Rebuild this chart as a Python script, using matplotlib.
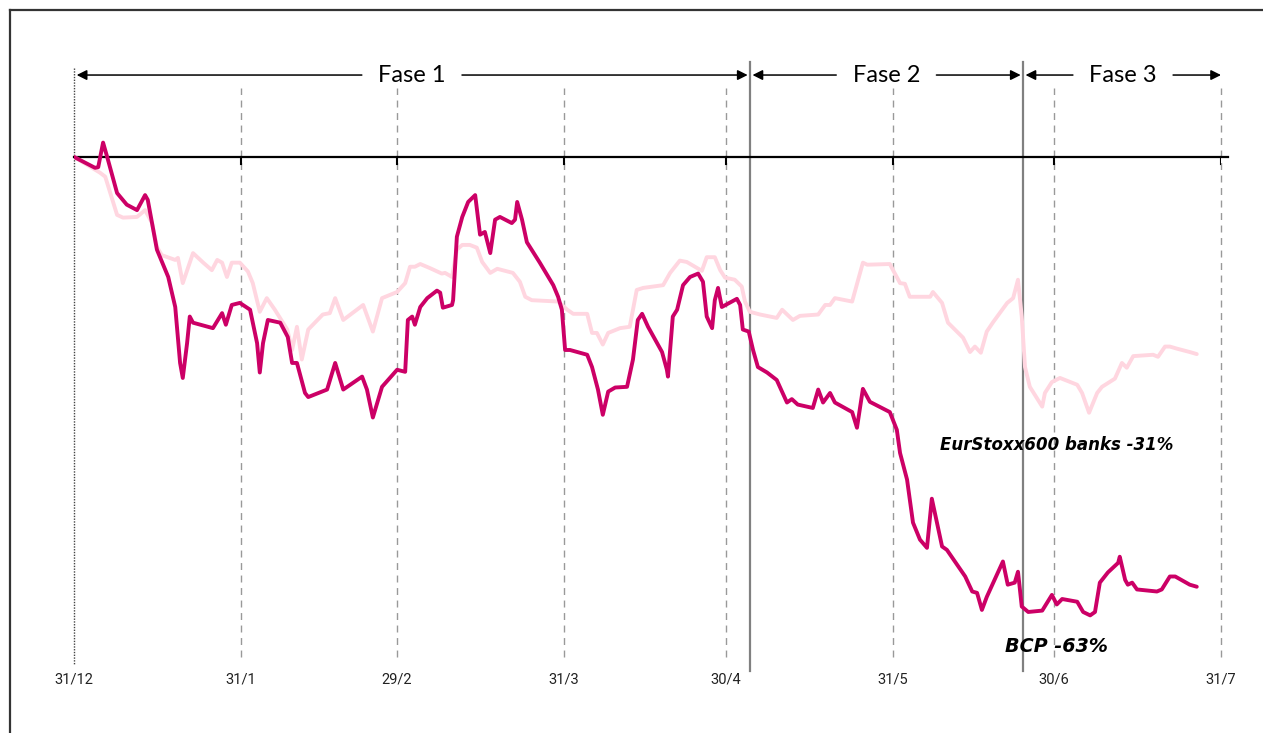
import matplotlib
matplotlib.use('Agg')
import matplotlib.pyplot as plt
from matplotlib.lines import Line2D

# x = days since 31/12/2015, y = change vs. 31/12 in %
bcp_days = [0, 3.9, 4.5, 5.4, 6.3, 8.0, 9.8, 11.7, 13.2, 13.7, 15.4, 17.5, 18.8, 19.7, 20.2,
            21.0, 21.5, 22.1, 25.8, 27.5, 28.2, 29.3, 30.8, 32.7, 34.0, 34.5, 35.1, 36.0, 38.3,
            39.7, 40.5, 41.4, 42.9, 43.5, 47.0, 48.5, 50.0, 53.5, 54.4, 55.5, 57.2, 60.0, 61.5,
            62.0, 62.8, 63.3, 64.3, 65.6, 67.4, 68.0, 68.5, 70.2, 70.4, 71.1, 72.1, 73.2, 74.5,
            75.4, 76.3, 77.3, 78.2, 79.1, 81.3, 81.9, 82.3, 83.2, 84.1, 86.5, 89.0, 89.9, 90.6,
            91.2, 92.1, 95.3, 96.2, 97.3, 98.2, 99.2, 100.5, 102.7, 103.8, 104.7, 105.5, 106.6,
            109.2, 110.1, 110.3, 111.2, 112.0, 113.1, 114.4, 115.9, 116.8, 117.5, 118.5, 119.0,
            119.6, 120.3, 123.1, 123.7, 124.2, 125.3, 126.1, 127.0, 128.7, 130.5, 132.4, 133.3,
            134.4, 137.2, 138.2, 139.1, 140.4, 141.3, 144.5, 145.4, 146.5, 147.8, 151.5, 152.8,
            153.4, 154.7, 155.8, 157.1, 158.4, 159.3, 161.2, 162.1, 165.5, 166.8, 167.7, 168.6,
            169.5, 172.5, 173.4, 174.7, 175.3, 176.0, 177.2, 179.8, 181.6, 182.5, 183.5, 186.3,
            187.4, 188.7, 189.6, 190.5, 192.0, 193.9, 194.2, 195.2, 195.7, 196.5, 197.4, 201.1,
            202.0, 203.5, 204.5, 207.2, 208.5]
bcp_pct = [0, -1.6, -1.5, 2.1, -0.4, -5.3, -7.0, -7.8, -5.6, -6.3, -13.6, -17.6, -22.0, -30.2,
           -32.4, -27.3, -23.4, -24.3, -25.1, -22.9, -24.6, -21.7, -21.4, -22.4, -27.3, -31.6,
           -27.3, -23.9, -24.3, -26.4, -30.2, -30.2, -34.6, -35.2, -34.1, -30.2, -34.1, -32.2,
           -34.1, -38.2, -33.7, -31.2, -31.5, -23.9, -23.4, -24.6, -22.0, -20.7, -19.6, -19.9,
           -22.1, -21.7, -21.0, -11.7, -8.8, -6.6, -5.6, -11.4, -11.0, -14.1, -9.2, -8.8, -9.7,
           -9.2, -6.6, -9.2, -12.5, -15.5, -18.8, -20.5, -22.4, -28.3, -28.3, -29.0, -30.8,
           -34.1, -37.8, -34.4, -33.8, -33.7, -29.7, -23.9, -23.0, -24.9, -28.6, -31.2, -32.2,
           -23.4, -22.4, -18.8, -17.6, -17.1, -18.3, -23.4, -25.1, -21.0, -19.2, -22.0, -20.8,
           -21.7, -25.3, -25.6, -28.3, -30.8, -31.6, -32.7, -36.0, -35.5, -36.3, -36.8, -34.1,
           -36.0, -34.6, -36.0, -37.4, -39.7, -34.0, -35.9, -37.4, -40.0, -43.4, -47.3, -53.6,
           -56.1, -57.3, -50.1, -57.1, -57.6, -61.5, -63.7, -63.9, -66.4, -64.5, -59.3, -62.7,
           -62.4, -60.8, -65.9, -66.7, -66.5, -64.2, -65.6, -64.8, -65.2, -66.7, -67.2, -66.7,
           -62.4, -60.9, -59.5, -58.6, -62.0, -62.7, -62.4, -63.4, -63.7, -63.4, -61.5, -61.5,
           -62.7, -63.0]

banks_days = [0, 4.8, 5.8, 8.0, 9.1, 11.7, 13.2, 14.5, 15.4, 16.3, 18.8, 19.3, 20.2, 22.1, 24.0,
              25.6, 26.6, 27.5, 28.4, 29.3, 30.8, 32.3, 33.2, 34.5, 35.8, 37.3, 39.6, 40.5, 41.4,
              42.3, 43.5, 46.2, 47.5, 48.5, 50.0, 53.7, 55.5, 57.2, 60.0, 61.5, 62.4, 63.3, 64.3,
              66.1, 68.3, 68.9, 70.2, 71.1, 72.1, 73.5, 74.8, 75.8, 77.3, 78.6, 81.5, 82.8, 83.8,
              85.0, 89.9, 91.6, 92.7, 95.3, 96.2, 97.1, 98.2, 99.2, 101.4, 103.2, 104.5, 105.7,
              109.4, 110.7, 112.5, 113.8, 116.6, 117.5, 119.0, 120.0, 120.9, 122.7, 124.0, 124.6,
              125.5, 127.4, 130.5, 131.5, 133.5, 134.8, 138.2, 139.5, 140.4, 141.3, 144.5, 146.5,
              147.3, 151.5, 152.1, 153.4, 154.3, 155.2, 159.0, 159.5, 161.2, 162.3, 165.1, 166.4,
              167.3, 168.4, 169.5, 170.7, 173.3, 174.4, 175.3, 176.0, 176.6, 177.5, 179.8, 180.3,
              181.6, 183.1, 186.3, 187.2, 188.5, 190.0, 190.9, 193.3, 194.6, 195.5, 196.7, 200.4,
              201.3, 202.6, 203.5, 204.8, 207.2, 208.5]
banks_pct = [0, -2.3, -2.9, -8.5, -8.9, -8.8, -7.8, -9.7, -13.2, -14.4, -15.1, -14.8, -18.5,
             -14.1, -15.5, -16.6, -15.1, -15.5, -17.6, -15.5, -15.5, -16.8, -18.5, -22.7, -20.7,
             -22.4, -25.3, -28.3, -24.9, -29.7, -25.3, -23.1, -22.9, -20.7, -23.9, -21.7, -25.6,
             -20.7, -19.8, -18.5, -16.1, -16.1, -15.7, -16.3, -17.1, -17.0, -17.6, -13.6, -12.9,
             -12.9, -13.3, -15.4, -17.0, -16.4, -17.0, -18.3, -20.5, -21.0, -21.2, -22.4, -23.0,
             -23.0, -25.8, -25.8, -27.5, -25.8, -25.1, -24.9, -19.5, -19.2, -18.8, -17.0, -15.2,
             -15.4, -16.7, -14.7, -14.7, -16.6, -17.7, -18.0, -19.0, -21.2, -22.7, -23.1, -23.6,
             -22.4, -23.9, -23.3, -23.1, -21.7, -21.7, -20.7, -21.2, -15.5, -15.8, -15.7, -16.6,
             -18.5, -18.6, -20.5, -20.5, -19.8, -21.4, -24.3, -26.5, -28.6, -27.8, -28.7, -25.6,
             -24.2, -21.4, -20.7, -18.0, -23.4, -30.8, -33.7, -36.6, -34.6, -33.0, -32.4, -33.4,
             -34.6, -37.5, -34.6, -33.7, -32.5, -30.2, -30.9, -29.2, -29.0, -29.3, -27.8, -27.8,
             -28.1, -28.6, -28.9]

month_days = [0, 31, 60, 91, 121, 152, 182, 213]
month_labels = ["31/12", "31/1", "29/2", "31/3", "30/4", "31/5", "30/6", "31/7"]
phase_edges = [0, 125.5, 176.2, 213.4]   # 31/12, 5/5, 24/6, end
phase_names = ["Fase 1", "Fase 2", "Fase 3"]

bcp_color = "#CC0066"
banks_color = "#FFD6E0"

W, H = 1263, 733
fig = plt.figure(figsize=(W / 100, H / 100), dpi=100)
ax = fig.add_axes([74 / W, (H - 657) / H, (1221 - 74) / W, (657 - 88) / H])
ax.set_xlim(0, 213)
ax.set_ylim(-73.3, 10.1)
ax.axis('off')

# frame (only left and top edges visible)
fig.add_artist(Line2D([10 / W, 10 / W], [0, 1 - 10 / H], color="#333333", lw=1.6))
fig.add_artist(Line2D([10 / W, 1], [1 - 10 / H, 1 - 10 / H], color="#333333", lw=1.6))

# month grid
for d in month_days[1:]:
    ax.plot([d, d], [-73.3, 10.1], color="#999999", lw=1, ls=(0, (5, 4)), clip_on=False, zorder=1)
    ax.plot([d, d], [0, -1.0], color="black", lw=1.5, zorder=3)
ax.plot([0, 0], [13.0, -74.4], color="#444444", lw=1, ls=(0, (1, 1)), clip_on=False, zorder=1)

# zero line
ax.plot([0, 214.3], [0, 0], color="black", lw=1.6, clip_on=False, zorder=3)

# phase boundaries
for d in phase_edges[1:3]:
    ax.plot([d, d], [13.9, -75.3], color="#808080", lw=1.6, clip_on=False, zorder=2)

# series
ax.plot(banks_days, banks_pct, color=banks_color, lw=2.8, solid_joinstyle='round',
        solid_capstyle='round', zorder=4)
ax.plot(bcp_days, bcp_pct, color=bcp_color, lw=2.8, solid_joinstyle='round',
        solid_capstyle='round', zorder=5)

# phase arrows
y_arrow = 12.0
gap = 9.3
for i, name in enumerate(phase_names):
    a, b = phase_edges[i], phase_edges[i + 1]
    c = (a + b) / 2
    ax.text(c, y_arrow, name, ha='center', va='center', fontsize=17,
            family='Lato', clip_on=False)
    for start, end in [(c - gap, a + 0.5), (c + gap, b - 0.4)]:
        ax.annotate('', xy=(end, y_arrow), xytext=(start, y_arrow),
                    arrowprops=dict(arrowstyle='-|>', color='black', lw=1.1,
                                    mutation_scale=15, shrinkA=0, shrinkB=0),
                    annotation_clip=False)

# month labels
for d, lab in zip(month_days, month_labels):
    ax.text(d, -76.6, lab, ha='center', va='center', fontsize=10.5, family='Roboto',
            color='#222222', clip_on=False)

ax.text(182.4, -42.2, "EurStoxx600 banks -31%", ha='center', va='center',
        fontsize=12, style='italic', weight='bold', family='DejaVu Sans', clip_on=False)
ax.text(182.4, -71.8, "BCP -63%", ha='center', va='center',
        fontsize=13.8, style='italic', weight='bold', family='DejaVu Sans', clip_on=False)

plt.savefig("out.png", dpi=100)
plt.close(fig)
